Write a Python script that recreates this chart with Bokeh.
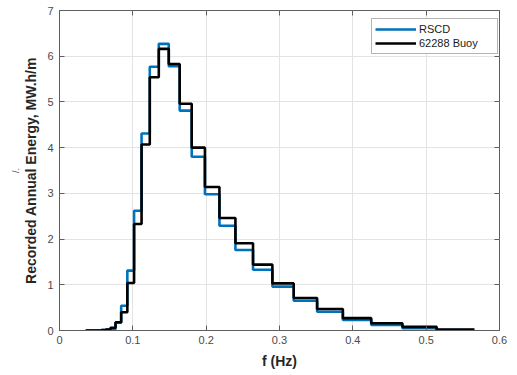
from bokeh.plotting import figure
from bokeh.models import (Range1d, LinearAxis, FixedTicker, Legend, LegendItem, Title)
from bokeh.embed import file_html
from bokeh.resources import INLINE

# Frequency bin edges (Hz) shared by both spectra
bin_edges = [0.0357, 0.0392, 0.0431, 0.0475, 0.0522, 0.0574, 0.0632, 0.0695,
             0.0764, 0.0841, 0.0925, 0.1017, 0.1119, 0.1231, 0.1354, 0.1490,
             0.1639, 0.1803, 0.1983, 0.2181, 0.2399, 0.2639, 0.2903, 0.3194,
             0.3513, 0.3864, 0.4251, 0.4676, 0.5143, 0.5658]

# Recorded annual energy per bin (MW.h/m)
rscd_energy = [0.0, 0.0, 0.0, 0.0, 0.0, 0.01, 0.02, 0.03, 0.17, 0.54, 1.31,
               2.62, 4.31, 5.77, 6.27, 5.78, 4.81, 3.80, 2.98, 2.29, 1.76,
               1.33, 0.96, 0.65, 0.41, 0.23, 0.12, 0.05, 0.01]
buoy_energy = [0.0, 0.0, 0.0, 0.0, 0.0, 0.01, 0.02, 0.06, 0.18, 0.40, 1.04,
               2.33, 4.07, 5.54, 6.16, 5.83, 4.96, 4.00, 3.14, 2.46, 1.91,
               1.44, 1.03, 0.71, 0.47, 0.27, 0.16, 0.08, 0.02]

series_names = ["RSCD", "62288 Buoy"]
series_colors = ["#0072BD", "#000000"]

x_ticks = [0, 0.1, 0.2, 0.3, 0.4, 0.5, 0.6]
x_tick_labels = ["0", "0.1", "0.2", "0.3", "0.4", "0.5", "0.6"]
y_ticks = [0, 1, 2, 3, 4, 5, 6, 7]
y_tick_labels = ["0", "1", "2", "3", "4", "5", "6", "7"]

FONT = "Liberation Sans"
AX_COLOR = "#5e5e5e"
GRID_COLOR = "#e3e3e3"

p = figure(width=517, height=375, x_range=Range1d(0, 0.6), y_range=Range1d(0, 7),
           output_backend="svg", toolbar_location=None,
           min_border_left=59, min_border_right=18, min_border_top=10,
           min_border_bottom=45)
p.background_fill_color = "white"
p.border_fill_color = "white"
p.outline_line_color = AX_COLOR
p.outline_line_width = 1

renderers = []
for vals, color in zip([rscd_energy, buoy_energy], series_colors):
    r = p.step(bin_edges, vals + [vals[-1]], mode="after", line_color=color,
               line_width=2.6)
    renderers.append(r)

# axes styling
for ax, ticks, labels in [(p.xaxis[0], x_ticks, x_tick_labels),
                          (p.yaxis[0], y_ticks, y_tick_labels)]:
    ax.ticker = FixedTicker(ticks=ticks)
    ax.major_label_overrides = dict(zip(ticks, labels))
    ax.major_tick_in = 5
    ax.major_tick_out = 0
    ax.minor_tick_line_color = None
    ax.axis_line_color = AX_COLOR
    ax.major_tick_line_color = AX_COLOR
    ax.major_label_text_font = FONT
    ax.major_label_text_font_size = "11px"
    ax.major_label_text_color = "#4a4a4a"
    ax.axis_label_text_font = FONT
    ax.axis_label_text_font_size = "14px"
    ax.axis_label_text_font_style = "bold"
    ax.axis_label_text_color = "#262626"

p.xaxis[0].axis_label = "f (Hz)"
p.yaxis[0].axis_label = "Recorded Annual Energy, MW.h/m"
p.xaxis[0].major_label_standoff = 5
p.xaxis[0].axis_label_standoff = 6
p.yaxis[0].major_label_standoff = 6
p.yaxis[0].axis_label_standoff = 5

# tick marks (without labels) on the top and right edges of the box
for loc, ticks in [("above", x_ticks), ("right", y_ticks)]:
    ax = LinearAxis(ticker=FixedTicker(ticks=ticks), major_tick_in=5,
                    major_tick_out=0, minor_tick_line_color=None,
                    axis_line_color=None, major_tick_line_color=AX_COLOR,
                    major_label_overrides={t: "" for t in ticks},
                    major_label_text_color=None, major_label_standoff=0)
    p.add_layout(ax, loc)

p.xgrid.ticker = FixedTicker(ticks=x_ticks)
p.ygrid.ticker = FixedTicker(ticks=y_ticks)
p.xgrid.grid_line_color = GRID_COLOR
p.ygrid.grid_line_color = GRID_COLOR

legend = Legend(items=[LegendItem(label=n, renderers=[r])
                       for n, r in zip(series_names, renderers)],
                location=(312, 276), orientation="vertical")
legend.glyph_width = 41
legend.glyph_height = 14
legend.label_height = 14
legend.label_width = 75
legend.label_standoff = 3
legend.padding = 3
legend.spacing = 0
legend.margin = 0
legend.label_text_font = FONT
legend.label_text_font_size = "11px"
legend.label_text_color = "#1a1a1a"
legend.border_line_color = "#6a6a6a"
legend.border_line_width = 1
legend.background_fill_color = "white"
legend.background_fill_alpha = 1.0
p.add_layout(legend)

# small stray mark at the far left edge
p.add_layout(Title(text="/.", align="center", offset=4, standoff=0,
                   text_font=FONT, text_font_size="9px",
                   text_font_style="normal", text_color="#555555"), "left")

open("out.html", "w").write(file_html(p, INLINE))
